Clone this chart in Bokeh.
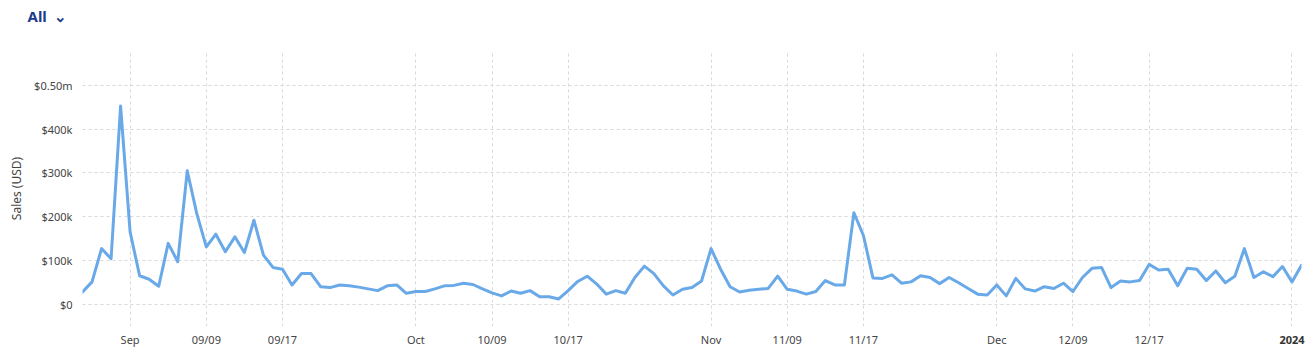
import pandas as pd
from bokeh.plotting import figure
from bokeh.models import FixedTicker, Range1d, ColumnDataSource, DatetimeAxis, Title
from bokeh.embed import file_html
from bokeh.resources import INLINE

# ---------------- data ----------------
start_date = "2023-08-27"
end_date = "2024-01-02"
sales_k = [
    # Aug 27 - Aug 31
    28, 51, 127, 104, 453,
    # Sep
    165, 65, 57, 41, 139, 97, 305, 207, 131, 160,
    120, 154, 118, 192, 112, 84, 80, 44, 70, 70,
    40, 38, 44, 42, 39, 35, 31, 42, 44, 25,
    # Oct
    29, 29, 35, 42, 43, 48, 45, 35, 26, 19,
    30, 25, 31, 17, 17, 12, 31, 52, 64, 46,
    23, 31, 25, 61, 87, 70, 42, 21, 34, 38, 53,
    # Nov
    127, 80, 40, 28, 32, 34, 36, 64, 34, 30,
    23, 29, 54, 44, 44, 209, 157, 60, 59, 67,
    48, 51, 65, 61, 47, 61, 49, 36, 23, 21,
    # Dec
    44, 19, 59, 35, 30, 40, 36, 48, 29, 61,
    82, 84, 38, 53, 51, 54, 91, 78, 80, 42,
    82, 80, 54, 76, 49, 64, 127, 61, 74, 63, 86,
    # Jan 1 - Jan 2
    51, 89,
]
x_tick_dates = ["2023-09-01", "2023-09-09", "2023-09-17", "2023-10-01", "2023-10-09",
                "2023-10-17", "2023-11-01", "2023-11-09", "2023-11-17", "2023-12-01",
                "2023-12-09", "2023-12-17", "2024-01-01"]
x_tick_labels = ["Sep", "09/09", "09/17", "Oct", "10/09", "10/17", "Nov", "11/09",
                 "11/17", "Dec", "12/09", "12/17", "2024"]
y_ticks = [0, 100000, 200000, 300000, 400000, 500000]
y_tick_labels = ["$0", "$100k", "$200k", "$300k", "$400k", "$0.50m"]
selector_text = "All\u2002\u2304"

dates = pd.date_range(start_date, end_date, freq="D")
assert len(dates) == len(sales_k), (len(dates), len(sales_k))
sales = [v * 1000 for v in sales_k]
src = ColumnDataSource(dict(date=dates, sales=sales))

def ms(d):
    return pd.Timestamp(d).value / 1e6

FONT = "Noto Sans"
TXT = "#444444"

p = figure(width=1305, height=349, x_axis_type="datetime", title=None,
           output_backend="svg", toolbar_location=None,
           x_range=Range1d(ms(dates[0]), ms(dates[-1])),
           y_range=Range1d(-51000, 580000),
           min_border_left=82, min_border_right=4,
           min_border_top=50, min_border_bottom=22)
p.outline_line_color = None
p.background_fill_color = "white"
p.border_fill_color = "white"

# spacer (nearest the frame) then the "All" selector text above it
p.add_layout(Title(text=" ", text_font_size="1px", standoff=16), "above")
p.add_layout(Title(text=selector_text, align="left", vertical_align="top",
                   offset=-55, standoff=7, text_font=FONT, text_font_size="15px",
                   text_font_style="bold", text_color="#1d3c8c"), "above")

p.line("date", "sales", source=src, line_color="#6aa9e8", line_width=3,
       line_join="round", line_cap="round")

# x axis
tick_ms = [ms(d) for d in x_tick_dates]
p.xaxis.ticker = FixedTicker(ticks=tick_ms)
overrides = {t: lab for t, lab in zip(tick_ms, x_tick_labels)}
overrides[tick_ms[-1]] = ""
p.xaxis.major_label_overrides = overrides
p.xaxis.major_label_standoff = 5

# second axis carrying only the bold year label, pulled up into the same row
year_axis = DatetimeAxis(ticker=FixedTicker(ticks=[tick_ms[-1]]),
                         major_label_overrides={tick_ms[-1]: x_tick_labels[-1]})
year_axis.major_label_standoff = -14
year_axis.major_label_text_font_style = "bold"
year_axis.major_label_text_color = "#333333"
p.add_layout(year_axis, "below")

# y axis
p.yaxis.ticker = FixedTicker(ticks=y_ticks)
p.yaxis.major_label_overrides = {t: lab for t, lab in zip(y_ticks, y_tick_labels)}
p.yaxis.axis_label = "Sales (USD)"
p.yaxis.axis_label_text_font = FONT
p.yaxis.axis_label_text_font_size = "12px"
p.yaxis.axis_label_text_font_style = "normal"
p.yaxis.axis_label_text_color = TXT
p.yaxis.axis_label_standoff = 6
p.yaxis.major_label_standoff = 10

for ax in (p.xaxis[0], year_axis, p.yaxis[0]):
    ax.axis_line_color = None
    ax.major_tick_line_color = None
    ax.minor_tick_line_color = None
    ax.major_tick_out = 0
    ax.major_tick_in = 0
    ax.major_label_text_font = FONT
    ax.major_label_text_font_size = "11px"
    if ax is not year_axis:
        ax.major_label_text_color = TXT

for g in (p.xgrid, p.ygrid):
    g.grid_line_color = "#d9d9d9"
    g.grid_line_dash = "3 3"
    g.grid_line_width = 1

open("out.html", "w").write(file_html(p, INLINE))
